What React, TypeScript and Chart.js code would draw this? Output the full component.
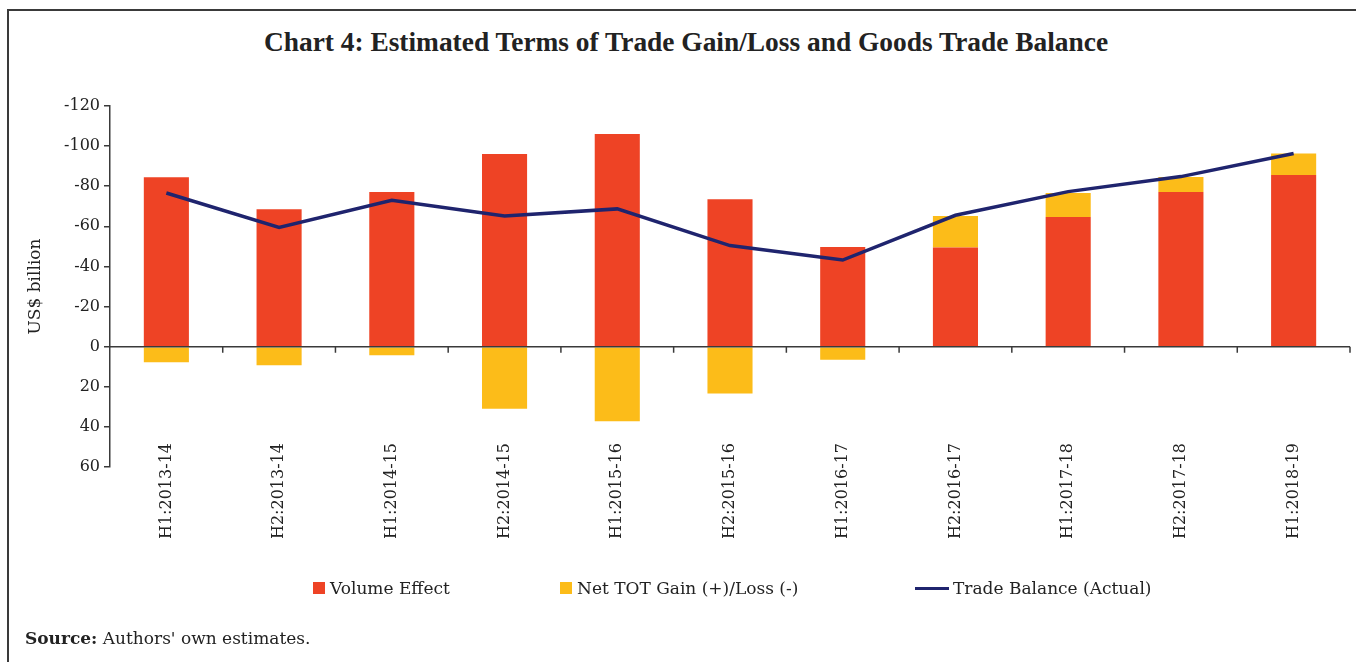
import React, { useEffect, useRef } from 'react';
import { Chart, registerables } from 'chart.js';

Chart.register(...registerables);

const categories = [
  'H1:2013-14', 'H2:2013-14', 'H1:2014-15', 'H2:2014-15', 'H1:2015-16', 'H2:2015-16',
  'H1:2016-17', 'H2:2016-17', 'H1:2017-18', 'H2:2017-18', 'H1:2018-19',
];
const volumeEffect = [-84.5, -68.5, -77.1, -96.1, -106.1, -73.5, -49.7, -49.5, -64.7, -77.1, -85.6];
const netTotGain = [7.8, 9.3, 4.3, 30.9, 37.2, 23.3, 6.5, -15.6, -11.9, -7.5, -10.7];
const tradeBalance = [-76.6, -59.4, -73.0, -65.2, -68.7, -50.4, -43.2, -65.5, -77.3, -84.8, -96.3];
const seriesNames = ['Volume Effect', 'Net TOT Gain (+)/Loss (-)', 'Trade Balance (Actual)'];
const yMin = -120;
const yMax = 60;
const yStep = 20;

const RED = '#EE4325';
const YELLOW = '#FCBC19';
const NAVY = '#1F246E';
const AXIS = '#3a3a3a';
const SERIF = '"DejaVu Serif", "Liberation Serif", serif';
const X_FONT_SIZE = 16;

const zeroLinePlugin = {
  id: 'zeroLine',
  afterDatasetsDraw(chart: any) {
    const { ctx, chartArea, scales } = chart;
    const y0 = scales.y.getPixelForValue(0);
    const xs = scales.x;
    ctx.save();
    ctx.strokeStyle = AXIS;
    ctx.lineWidth = 1.5;
    ctx.beginPath();
    ctx.moveTo(chartArea.left, y0);
    ctx.lineTo(chartArea.right, y0);
    const n = categories.length;
    for (let i = 1; i <= n; i++) {
      const x = i < n
        ? (xs.getPixelForValue(i - 1) + xs.getPixelForValue(i)) / 2
        : chartArea.right;
      ctx.moveTo(x, y0);
      ctx.lineTo(x, y0 + 6);
    }
    ctx.stroke();
    ctx.restore();
  },
};

export default function App() {
  const canvasRef = useRef<HTMLCanvasElement | null>(null);

  useEffect(() => {
    document.body.style.margin = '0';
    const canvas = canvasRef.current;
    if (!canvas) return;
    const chart = new Chart(canvas, {
      type: 'bar',
      data: {
        labels: categories,
        datasets: [
          {
            type: 'line',
            label: seriesNames[2],
            data: tradeBalance,
            borderColor: NAVY,
            backgroundColor: NAVY,
            borderWidth: 3.5,
            pointRadius: 0,
            tension: 0,
            stack: 'line',
            order: 0,
          } as any,
          {
            type: 'bar',
            label: seriesNames[0],
            data: volumeEffect,
            backgroundColor: RED,
            stack: 'bars',
            barPercentage: 0.4,
            categoryPercentage: 1,
            order: 1,
          },
          {
            type: 'bar',
            label: seriesNames[1],
            data: netTotGain,
            backgroundColor: YELLOW,
            stack: 'bars',
            barPercentage: 0.4,
            categoryPercentage: 1,
            order: 1,
          },
        ],
      },
      options: {
        responsive: false,
        animation: false,
        layout: { padding: { left: 0, right: 6, top: 106, bottom: 95 } },
        plugins: {
          legend: { display: false },
          title: { display: false },
          tooltip: { enabled: false },
        },
        scales: {
          x: {
            stacked: true,
            grid: { display: false },
            border: { display: false },
            ticks: {
              minRotation: 90,
              maxRotation: 90,
              autoSkip: false,
              mirror: true,
              padding: 24,
              labelOffset: X_FONT_SIZE * 1.2,
              color: '#222',
              font: { family: SERIF, size: X_FONT_SIZE },
            },
            afterFit(scale: any) {
              scale.height = 100;
              scale.paddingLeft = 0;
              scale.paddingRight = 0;
            },
          },
          y: {
            stacked: true,
            reverse: true,
            min: yMin,
            max: yMax,
            ticks: {
              stepSize: yStep,
              padding: 4,
              color: '#222',
              font: { family: SERIF, size: 16 },
            },
            grid: {
              drawOnChartArea: false,
              drawTicks: true,
              tickLength: 6,
              color: AXIS,
              lineWidth: 1.5,
            },
            border: { display: true, color: AXIS, width: 1.5 },
            title: {
              display: true,
              text: 'US$ billion',
              color: '#222',
              font: { family: SERIF, size: 17 },
              padding: { top: 25, bottom: 0 },
            },
            afterFit(scale: any) {
              scale.width = 110;
            },
          },
        },
      },
      plugins: [zeroLinePlugin],
    });
    return () => chart.destroy();
  }, []);

  const legendText: React.CSSProperties = {
    position: 'absolute',
    top: 577,
    fontFamily: SERIF,
    fontSize: 17,
    color: '#222',
    whiteSpace: 'nowrap',
    lineHeight: '22px',
  };

  return (
    <div style={{ position: 'absolute', left: 0, top: 0, width: 1356, height: 662, background: '#fff', overflow: 'hidden' }}>
      <div style={{ position: 'absolute', left: 7, top: 9, width: 1360, height: 660, borderLeft: `2px solid ${AXIS}`, borderTop: `2px solid ${AXIS}` }} />
      <div style={{ position: 'absolute', left: 0, top: 24, width: 1372, textAlign: 'center', fontFamily: '"Liberation Serif", serif', fontWeight: 'bold', fontSize: 27.4, color: '#222', whiteSpace: 'nowrap', lineHeight: '36px' }}>
        Chart 4: Estimated Terms of Trade Gain/Loss and Goods Trade Balance
      </div>
      <canvas ref={canvasRef} width={1356} height={662} style={{ position: 'absolute', left: 0, top: 0 }} />
      <div style={{ position: 'absolute', left: 313, top: 582, width: 12, height: 12, background: RED }} />
      <div style={{ ...legendText, left: 330 }}>{seriesNames[0]}</div>
      <div style={{ position: 'absolute', left: 560, top: 582, width: 12, height: 12, background: YELLOW }} />
      <div style={{ ...legendText, left: 577 }}>{seriesNames[1]}</div>
      <div style={{ position: 'absolute', left: 915, top: 587, width: 34, height: 3, background: NAVY }} />
      <div style={{ ...legendText, left: 953 }}>{seriesNames[2]}</div>
      <div style={{ position: 'absolute', left: 25, top: 627, fontFamily: SERIF, fontSize: 17, color: '#222', whiteSpace: 'nowrap', lineHeight: '22px' }}>
        <b>Source:</b> Authors' own estimates.
      </div>
    </div>
  );
}
